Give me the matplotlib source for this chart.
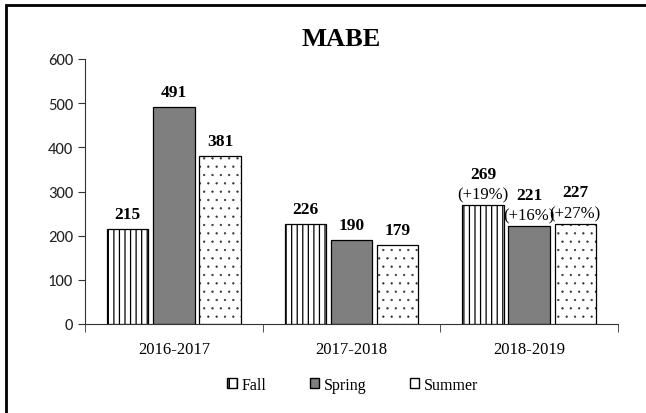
import numpy as np
import matplotlib as mpl
import matplotlib.pyplot as plt
from matplotlib.patches import Rectangle, Patch

years = ["2016-2017", "2017-2018", "2018-2019"]
fall = [215, 226, 269]
spring = [491, 190, 221]
summer = [381, 179, 227]
pct_fall = [None, None, "(+19%)"]
pct_spring = [None, None, "(+16%)"]
pct_summer = [None, None, "(+27%)"]

serif = ["Liberation Serif", "DejaVu Serif"]

fig = plt.figure(figsize=(6.46, 4.14), dpi=100)
ax = fig.add_axes([85 / 646, 1 - 325 / 414, 533 / 646, 265 / 414])

x = np.arange(len(years))
w = 0.234
off = 0.26

mpl.rcParams["hatch.linewidth"] = 0.9
b1 = ax.bar(x - off, fall, w, color="white", edgecolor="black", hatch="|||", linewidth=0.9)
b2 = ax.bar(x, spring, w, color="#7f7f7f", edgecolor="black", linewidth=0.9)
mpl.rcParams["hatch.linewidth"] = 0.4
b3 = ax.bar(x + off, summer, w, color="white", edgecolor="black", hatch="..", linewidth=0.9)
for r in b3:
    if hasattr(r, "set_hatch_linewidth"):
        r.set_hatch_linewidth(0.4)
    r._hatch_color = mpl.colors.to_rgba("#333333")
for r in b1:
    if hasattr(r, "set_hatch_linewidth"):
        r.set_hatch_linewidth(0.9)

for bars, vals, pcts in [(b1, fall, pct_fall), (b2, spring, pct_spring), (b3, summer, pct_summer)]:
    for r, v, p in zip(bars, vals, pcts):
        cx = r.get_x() + r.get_width() / 2
        if p is None:
            ax.annotate(str(v), (cx, v), xytext=(0, 5), textcoords="offset points",
                        ha="center", va="bottom", fontsize=12.5, fontweight="bold", family=serif)
        else:
            ax.annotate(p, (cx, v), xytext=(0, 2), textcoords="offset points",
                        ha="center", va="bottom", fontsize=12, family=serif)
            ax.annotate(str(v), (cx, v), xytext=(0, 17), textcoords="offset points",
                        ha="center", va="bottom", fontsize=12.5, fontweight="bold", family=serif)

ax.set_xlim(-0.5, 2.5)
ax.set_ylim(0, 600)
ax.set_yticks(range(0, 601, 100))
ax.tick_params(axis="y", labelsize=12, length=5, colors="#333333", labelcolor="#222222")
for t in ax.get_yticklabels():
    t.set_family(["Carlito", "Open Sans", "DejaVu Sans"])

ax.set_xticks(x)
ax.set_xticklabels(years, family=serif, fontsize=12)
ax.set_xticks([-0.5, 0.5, 1.5, 2.5], minor=True)
ax.tick_params(axis="x", which="major", length=0, pad=12)
ax.tick_params(axis="x", which="minor", length=6, color="#333333")

for s in ["top", "right"]:
    ax.spines[s].set_visible(False)
ax.spines["left"].set_color("#333333")
ax.spines["bottom"].set_color("#333333")

fig.text(341 / 646, 1 - 40 / 414, "MABE", ha="center", va="center",
         fontsize=19, fontweight="bold", family=serif)

mpl.rcParams["hatch.linewidth"] = 1.2
handles = [Patch(facecolor="white", edgecolor="black", hatch="||"),
           Patch(facecolor="#7f7f7f", edgecolor="black"),
           Patch(facecolor="white", edgecolor="black")]
fig.legend(handles, ["Fall", "Spring", "Summer"], loc="center", ncol=3,
           bbox_to_anchor=(353 / 646, 1 - 386 / 414), frameon=False,
           prop={"family": serif, "size": 11.5}, handlelength=0.6, handleheight=0.6,
           handletextpad=0.3, columnspacing=2.7)

fig.patches.append(Rectangle((6 / 646, -0.1), 1.2, 1 - 6 / 414 + 0.1, transform=fig.transFigure,
                             fill=False, edgecolor="black", linewidth=2))

fig.savefig("out.png", dpi=100)
